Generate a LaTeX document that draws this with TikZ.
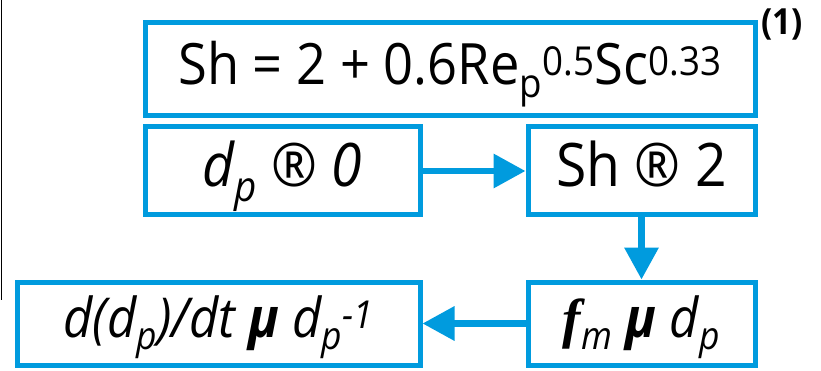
\documentclass[tikz,border=0pt]{standalone}
\usepackage{fontspec}
\setmainfont[FakeStretch=0.92]{Open Sans}
\newfontfamily\fserif{Liberation Serif}
\usetikzlibrary{arrows.meta}
\definecolor{boxblue}{RGB}{0,155,222}
\tikzset{
	eqbox/.style={draw=boxblue, line width=5pt, inner sep=0pt, text=black, text depth=14pt, font=\fontsize{60}{66}\selectfont},
	flow/.style={boxblue, line width=6.5pt, -{Triangle[length=32pt,width=33pt]}}
}
\begin{document}
\begin{tikzpicture}[x=1pt, y=-1pt]
		\useasboundingbox (0,0) rectangle (821,371);
		\draw[black, line width=1pt] (1,0) -- (1,300);

		\node[eqbox, minimum width=610pt, minimum height=93pt, font=\fontsize{57}{62}\selectfont] (sherwood) at (450,69.5) {Sh = 2 + 0.6Re\textsubscript{p}\textsuperscript{0.5}Sc\textsuperscript{0.33}};
		\node (eqnum) at (782,25) {\fontsize{36}{40}\selectfont\bfseries (1)};

		\node[eqbox, minimum width=275pt, minimum height=88pt] (dpzero) at (282.5,171) {\textit{d\textsubscript{p} ® 0}};
		\node[eqbox, minimum width=227pt, minimum height=88pt] (shtwo) at (641.5,171) {Sh \textit{®} 2};

		\node[eqbox, minimum width=403pt, minimum height=83pt, font=\fontsize{55}{60}\selectfont] (rate) at (218.5,323.5) {\textit{d(d\textsubscript{p})/dt \textbf{μ} d\textsubscript{p}\textsuperscript{-1}}};
		\node[eqbox, minimum width=227pt, minimum height=83pt, font=\fontsize{55}{60}\selectfont] (flux) at (641.5,323.5) {{\fserif\bfseries\itshape f}\textsubscript{\itshape m} \textbf{\itshape μ} \textit{d\textsubscript{p}}};

		\draw[flow] (dpzero.east) -- (shtwo.west);
		\draw[flow] (shtwo.south) -- (flux.north);
		\draw[flow] (flux.west) -- (rate.east);
	\end{tikzpicture}
\end{document}
